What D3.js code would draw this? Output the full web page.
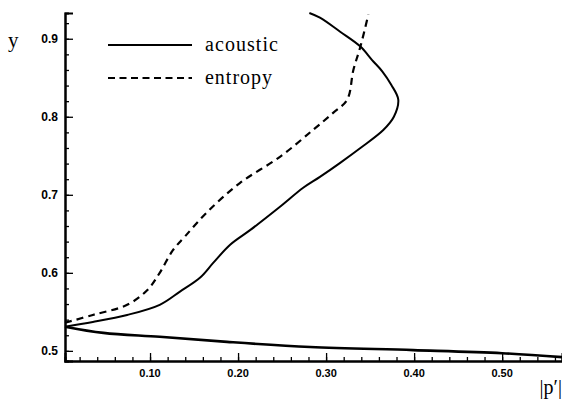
<!DOCTYPE html>
<html>
<meta charset="utf-8">
  <head>
    <script src="https://d3js.org/d3.v7.min.js"></script>
    <style>
      body { margin: 0; background: #fff; }
    </style>
  </head>
  <body>
    <div id="my_dataviz"></div>
    <script>

    // curve data: [|p'|, y]
    var acousticLower = [
      [0.0034, 0.531], [0.047, 0.523], [0.111, 0.518], [0.1875, 0.5115],
      [0.282, 0.505], [0.399, 0.501], [0.500, 0.497], [0.568, 0.492]
    ];
    var acousticUpper = [
      [0.0034, 0.531], [0.035, 0.537], [0.074, 0.546], [0.111, 0.559],
      [0.134, 0.576], [0.157, 0.594], [0.172, 0.613], [0.191, 0.636],
      [0.214, 0.655], [0.248, 0.685], [0.274, 0.709], [0.293, 0.723],
      [0.316, 0.741], [0.339, 0.760], [0.365, 0.783], [0.377, 0.800],
      [0.382, 0.822], [0.374, 0.841], [0.364, 0.858], [0.352, 0.873],
      [0.339, 0.890], [0.316, 0.909], [0.293, 0.927], [0.281, 0.933]
    ];
    var entropy = [
      [0.0034, 0.536], [0.035, 0.546], [0.074, 0.559], [0.097, 0.578],
      [0.111, 0.600], [0.126, 0.629], [0.140, 0.647], [0.165, 0.678],
      [0.202, 0.715], [0.248, 0.749], [0.285, 0.783], [0.308, 0.805],
      [0.324, 0.822], [0.331, 0.860], [0.339, 0.890], [0.348, 0.931]
    ];

    var xTicks = [0.10, 0.20, 0.30, 0.40, 0.50];
    var yTicks = [0.5, 0.6, 0.7, 0.8, 0.9];
    var legendNames = ["acoustic", "entropy"];

    var W = 562, H = 405;
    var margin = {top: 13, right: 0, bottom: 44, left: 65};

    var svg = d3.select("#my_dataviz")
      .append("svg")
        .attr("width", W)
        .attr("height", H);

    var x = d3.scaleLinear()
        .domain([0.0034, 0.568])
        .range([margin.left, W - margin.right]);
    var y = d3.scaleLinear()
        .domain([0.487, 0.933])
        .range([H - margin.bottom, margin.top]);

    // minor ticks every 0.02
    var xMinor = d3.range(0.02, 0.568, 0.02);
    var yMinor = d3.range(0.50, 0.933, 0.02);

    // x axis, ticks pointing up into the plot
    var xAxisG = svg.append("g")
        .attr("transform", "translate(0," + y.range()[0] + ")");
    xAxisG.call(d3.axisTop(x).tickValues(xMinor).tickSize(4).tickFormat(""));
    xAxisG.append("g").call(d3.axisTop(x).tickValues(xTicks).tickSize(8).tickFormat(""));
    xAxisG.selectAll(".domain").attr("stroke-width", 2);
    xAxisG.selectAll(".tick line").attr("stroke-width", 1.3);
    xAxisG.selectAll(".xlab")
        .data(xTicks)
        .enter()
        .append("text")
          .attr("class", "xlab")
          .attr("x", function(d) { return x(d); })
          .attr("y", 16)
          .attr("text-anchor", "middle")
          .attr("fill", "black")
          .style("font-family", "Liberation Sans, Arial, sans-serif")
          .style("font-weight", "bold")
          .style("font-size", "11px")
          .text(function(d) { return d3.format(".2f")(d); });

    // y axis, ticks pointing right into the plot
    var yAxisG = svg.append("g")
        .attr("transform", "translate(" + x.range()[0] + ",0)");
    yAxisG.call(d3.axisRight(y).tickValues(yMinor).tickSize(4).tickFormat(""));
    yAxisG.append("g").call(d3.axisRight(y).tickValues(yTicks).tickSize(8).tickFormat(""));
    yAxisG.selectAll(".domain").attr("stroke-width", 2);
    yAxisG.selectAll(".tick line").attr("stroke-width", 1.3);
    yAxisG.selectAll(".ylab")
        .data(yTicks)
        .enter()
        .append("text")
          .attr("class", "ylab")
          .attr("x", -7)
          .attr("y", function(d) { return y(d) + 4; })
          .attr("text-anchor", "end")
          .attr("fill", "black")
          .style("font-family", "Liberation Sans, Arial, sans-serif")
          .style("font-weight", "bold")
          .style("font-size", "12px")
          .text(function(d) { return d3.format(".1f")(d); });

    // axis titles
    svg.append("text")
        .attr("x", 8)
        .attr("y", 47)
        .style("font-family", "Liberation Serif, Times New Roman, serif")
        .style("font-size", "21px")
        .text("y");
    svg.append("text")
        .attr("x", 562)
        .attr("y", 394)
        .attr("text-anchor", "end")
        .style("font-family", "Liberation Serif, Times New Roman, serif")
        .style("font-size", "20px")
        .text("|p\u2032|");

    var line = d3.line()
        .x(function(d) { return x(d[0]); })
        .y(function(d) { return y(d[1]); })
        .curve(d3.curveCatmullRom);

    svg.append("path")
        .datum(acousticLower)
        .attr("d", line)
        .attr("fill", "none")
        .attr("stroke", "black")
        .attr("stroke-width", 2.6);
    svg.append("path")
        .datum(acousticUpper)
        .attr("d", line)
        .attr("fill", "none")
        .attr("stroke", "black")
        .attr("stroke-width", 2);
    svg.append("path")
        .datum(entropy)
        .attr("d", line)
        .attr("fill", "none")
        .attr("stroke", "black")
        .attr("stroke-width", 2.2)
        .attr("stroke-dasharray", "7,5");

    // legend
    var legend = svg.append("g");
    legendNames.forEach(function(name, i) {
      var ly = 45 + i * 33;
      legend.append("line")
          .attr("x1", 108).attr("x2", 192)
          .attr("y1", ly).attr("y2", ly)
          .attr("stroke", "black")
          .attr("stroke-width", 2)
          .attr("stroke-dasharray", i === 1 ? "7,4.5" : null);
      legend.append("text")
          .attr("x", 205)
          .attr("y", ly + 6)
          .attr("textLength", i === 0 ? 73 : 67)
          .style("font-family", "Liberation Serif, Times New Roman, serif")
          .style("font-size", "20px")
          .text(name);
    });

    </script>
  </body>
</html>
